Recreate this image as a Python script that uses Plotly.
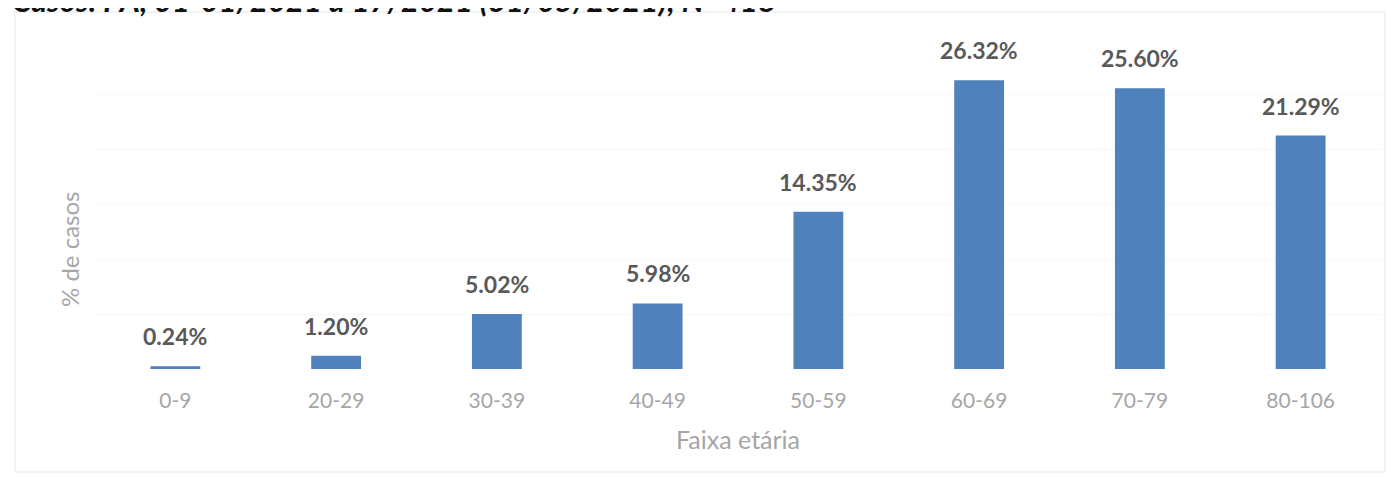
import plotly.graph_objects as go

categories = ["0-9", "20-29", "30-39", "40-49", "50-59", "60-69", "70-79", "80-106"]
values = [0.24, 1.20, 5.02, 5.98, 14.35, 26.32, 25.60, 21.29]
title_text = "Casos: PA, 01-01/2021 a 17/2021 (31/05/2021); N=418"
x_title = "Faixa etária"
y_title = "% de casos"

fig = go.Figure()
fig.add_trace(go.Bar(
    x=categories, y=values, width=0.31,
    marker=dict(color="#4f81bd", line=dict(width=0)),
    hoverinfo="x+y",
))

for c, v in zip(categories, values):
    fig.add_annotation(x=c, y=v, text=f"<b>{v:.2f}%</b>", showarrow=False,
                       yanchor="bottom", yshift=14,
                       font=dict(family="Lato", size=23, color="#595959"))

fig.add_annotation(xref="paper", yref="paper", x=-0.0661, y=1.1216,
                   xanchor="left", yanchor="middle", showarrow=False,
                   text=f"<b><i>{title_text}</i></b>",
                   font=dict(family="Lato", size=31, color="#111111"))

fig.add_annotation(xref="paper", yref="paper", x=-0.0194, y=0.362,
                   xanchor="center", yanchor="middle", showarrow=False,
                   textangle=-90, text=y_title,
                   font=dict(family="Lato", size=24, color="#a6a6a6"))

fig.add_shape(type="rect", xref="paper", yref="paper",
              x0=-0.0622, x1=1.003, y0=-0.313, y1=1.085,
              line=dict(color="#f0f0f0", width=1.5), fillcolor="rgba(0,0,0,0)", layer="below")

fig.update_layout(
    width=1392, height=472,
    margin=dict(l=87, r=19, t=32, b=111),
    paper_bgcolor="white", plot_bgcolor="white",
    showlegend=False,
    font=dict(family="Lato"),
    xaxis=dict(
        showgrid=False, showline=False, zeroline=False,
        tickfont=dict(size=21, color="#a6a6a6"),
        ticklabelstandoff=17,
        title=dict(text=x_title, font=dict(size=25, color="#a6a6a6"), standoff=20),
    ),
    yaxis=dict(
        range=[0, 30], dtick=5, showticklabels=False,
        showgrid=True, gridcolor="#f7f7f7", gridwidth=1,
        zeroline=False, showline=False,
    ),
)

fig.write_html("out.html")
